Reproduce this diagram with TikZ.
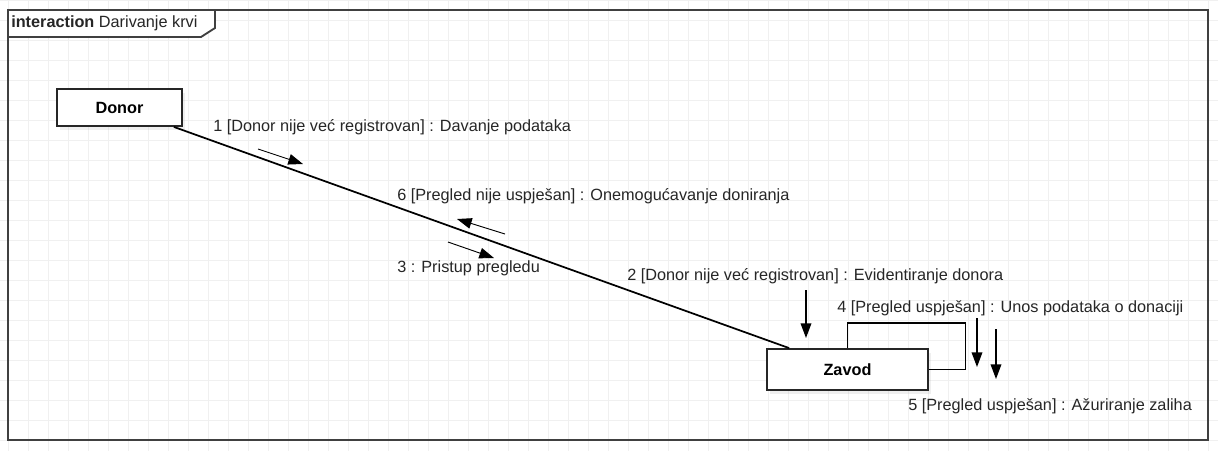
\documentclass[tikz,border=0pt]{standalone}
\usepackage{fontspec}
\setmainfont{Liberation Sans}
\usetikzlibrary{arrows.meta,calc,shadows}

\begin{document}
\begin{tikzpicture}[
  x=0.75pt, y=-0.75pt,
  font=\fontsize{12.2pt}{14pt}\selectfont,
  >={Triangle[length=11pt, width=8pt]},
  gridline/.style={draw=black!6, line width=0.6pt},
  frame/.style={draw=black!75, line width=1.4pt},
  obj/.style={draw=black!85, line width=1.4pt, fill=white,
              font=\fontsize{12.2pt}{14pt}\selectfont\bfseries,
              drop shadow={shadow xshift=2.5pt, shadow yshift=-3pt, opacity=0.12}},
  link/.style={draw=black, line width=1.3pt},
  msg/.style={->, line width=0.7pt},
  vmsg/.style={->, line width=1pt},
  lbl/.style={anchor=west, inner sep=0pt, text=black!85},
]

% ============ background grid ============
\useasboundingbox (0,0) rectangle (1218,451);
\fill[white] (0,0) rectangle (1218,451);
\foreach \x in {8,28,...,1208} \draw[gridline] (\x,0) -- (\x,451);
\foreach \y in {0,20,...,440} \draw[gridline] (0,\y) -- (1218,\y);

% ============ interaction frame ============
\draw[frame] (8,10) rectangle (1208,440);
\draw[frame, fill=white] (8,10) -- (215,10) -- (215,28) -- (201,37) -- (8,37) -- cycle;
\node[lbl] (title) at (11,23.5) {\textbf{interaction} Darivanje krvi};

% ============ objects ============
\node[obj, minimum width=93.75pt, minimum height=27.75pt] (donor) at (119.5,107.5) {Donor};
\node[obj, minimum width=120.75pt, minimum height=30.75pt] (zavod) at (847.5,369.5) {Zavod};

% links
\draw[link] ($(donor.south east)+(-9,0)$) -- ($(zavod.north west)+(23,0)$);
\draw[link] (zavod.north) |- ($(zavod.north)+(118,-25)$) |- (zavod.east);

% ============ messages ============
% ---- Donor -> Zavod ----
\coordinate (m1a) at (258,149); \coordinate (m1b) at (303,164);
\draw[msg] (m1a) -- (m1b);
\node[lbl] (l1) at (213,127) {1 [Donor nije već registrovan] : Davanje podataka};

\coordinate (m3a) at (448,242); \coordinate (m3b) at (494,258);
\draw[msg] (m3a) -- (m3b);
\node[lbl] (l3) at (397,268) {3 : Pristup pregledu};

% ---- Zavod -> Donor ----
\coordinate (m6a) at (505,234); \coordinate (m6b) at (457,219);
\draw[msg] (m6a) -- (m6b);
\node[lbl] (l6) at (397,196) {6 [Pregled nije uspješan] : Onemogućavanje doniranja};

% ---- to Zavod ----
\coordinate (m2a) at (806,290); \coordinate (m2b) at (806,338);
\draw[vmsg] (m2a) -- (m2b);
\node[lbl] (l2) at (627,276) {2 [Donor nije već registrovan] : Evidentiranje donora};

% ---- self messages ----
\coordinate (m4a) at (977,318); \coordinate (m4b) at (977,367);
\draw[vmsg] (m4a) -- (m4b);
\node[lbl] (l4) at (837,308) {4 [Pregled uspješan] : Unos podataka o donaciji};

\coordinate (m5a) at (996,329); \coordinate (m5b) at (996,379);
\draw[vmsg] (m5a) -- (m5b);
\node[lbl] (l5) at (908,406) {5 [Pregled uspješan] : Ažuriranje zaliha};

\end{tikzpicture}
\end{document}
